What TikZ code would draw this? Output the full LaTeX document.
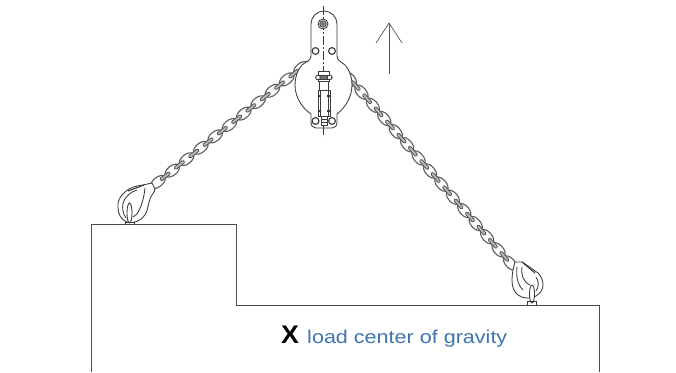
\documentclass[tikz,border=0pt]{standalone}
\usepackage{fontspec}
\usetikzlibrary{shapes.geometric}
\setmainfont{Liberation Sans}
\definecolor{capblue}{HTML}{3F75AE}
\definecolor{ink}{HTML}{3A3A3A}
\tikzset{
  outline/.style={draw=ink,line width=0.85pt},
  thin outline/.style={draw=ink,line width=0.6pt},
  body/.style={draw=black!70,line width=0.7pt},
  linkouter/.style={ellipse,draw=black!62,line width=1.15pt,fill=white,minimum width=17pt,minimum height=9.5pt,inner sep=0pt,sloped},
  linkedge/.style={draw=black!68,line width=0.8pt,fill=black!28,rounded corners=1.2pt,minimum width=12pt,minimum height=3pt,inner sep=0pt,sloped},
}
\begin{document}
\begin{tikzpicture}[x=1pt,y=-1pt]
\useasboundingbox (0,0) rectangle (676,372);
\fill[white] (0,0) rectangle (676,372);
% load
\draw[body] (91,372) -- (91,224) -- (236,224) -- (236,305) -- (599,305) -- (599,372);
% chains
\coordinate (plateL) at (301,68);
\coordinate (hookL) at (158,182);
\coordinate (plateR) at (350,79);
\coordinate (hookR) at (510,263);
\foreach \i in {0,...,20}{
  \pgfmathsetmacro{\t}{\i/20}
  \ifodd\i\else
    \path (plateL) -- (hookL) node[linkouter,pos=\t] (cl\i) {};
  \fi
}
\foreach \i in {0,...,20}{
  \pgfmathsetmacro{\t}{\i/20}
  \ifodd\i
    \path (plateL) -- (hookL) node[linkedge,pos=\t] (cl\i) {};
  \fi
}
\foreach \i in {0,...,28}{
  \pgfmathsetmacro{\t}{\i/28}
  \ifodd\i\else
    \path (plateR) -- (hookR) node[linkouter,pos=\t] (cr\i) {};
  \fi
}
\foreach \i in {0,...,28}{
  \pgfmathsetmacro{\t}{\i/28}
  \ifodd\i
    \path (plateR) -- (hookR) node[linkedge,pos=\t] (cr\i) {};
  \fi
}
% plate
\draw[outline,fill=white] (311,24) arc[start angle=180,end angle=360,radius=13] -- (337,56)
  .. controls (337,61) and (342,62) .. (345,65)
  .. controls (350,70) and (352,78) .. (352,85)
  .. controls (352,97) and (345,108) .. (337,114)
  -- (337,122) .. controls (337,126) and (335,128) .. (332,128)
  -- (316,128) .. controls (313,128) and (311,126) .. (311,122)
  -- (311,114)
  .. controls (302,108) and (295,97) .. (295,85)
  .. controls (295,78) and (297,70) .. (302,65)
  .. controls (305,62) and (311,61) .. (311,56) -- cycle;
\draw[thin outline,dash pattern=on 9pt off 2pt on 2pt off 2pt] (323.5,6) -- (323.5,137);
% plate holes
\foreach \n/\x/\y in {a/315.5/51,b/332/51,c/315.5/121,d/332/121}
  \draw[outline,fill=white,line width=1.1pt] (\x,\y) circle[radius=3.4];
\draw[outline,fill=white] (323,24) circle[radius=5];
\draw[outline,fill=black!25] (323,24) circle[radius=3.2];
\draw[thin outline,fill=white] (323,24) circle[radius=1.4];
% central device
\draw[thin outline,fill=white] (318,71) rectangle (329,81);
\draw[outline,fill=black!55,rounded corners=1.5pt] (316,75.5) rectangle (332,79.5);
\draw[outline,fill=white] (318,77.5) circle[radius=2.3];
\draw[outline,fill=white] (329.5,77.5) circle[radius=2.3];
\draw[thin outline,fill=white] (319,81) -- (328,81) -- (328,90) -- (319,90) -- cycle;
\draw[thin outline,fill=white] (318,90) rectangle (330,116);
\draw[thin outline] (320,90) -- (320,116) (328,90) -- (328,116);
\fill[ink] (318,95) rectangle (321,97) (327,95) rectangle (330,97)
  (318,110) rectangle (321,112) (327,110) rectangle (330,112);
\draw[thin outline,fill=white] (321,116) rectangle (327,125);
\draw[thin outline] (321,119) -- (327,119) (321,122) -- (327,122);
% left hook
\draw[outline,fill=white] (143,185) .. controls (135,186) and (129,188) .. (125,192)
  .. controls (120,196) and (117,202) .. (118,207)
  .. controls (118,214) and (121,220) .. (127,222)
  .. controls (133,224) and (141,221) .. (145,215)
  .. controls (148,210) and (148,204) .. (150,199)
  .. controls (151,195) and (155,192) .. (155,189)
  -- (152,183) -- cycle;
\draw[outline] (137,190) .. controls (130,192) and (125,197) .. (123,203)
  .. controls (122,209) and (123,214) .. (126,218);
\draw[outline] (145,188) .. controls (144,197) and (142,206) .. (137,214)
  -- (133,217);
\draw[line width=1.1pt,draw=ink] (128,191) -- (144,185);
\draw[outline,fill=white] (129.5,213) ellipse[x radius=2.5,y radius=10];
\draw[thin outline] (125,225) -- (125,222) -- (134,222) -- (134,225);
% right hook
\draw[outline,fill=white] (515,262) .. controls (513,268) and (512,275) .. (512,280)
  .. controls (512,287) and (514,292) .. (518,295)
  .. controls (523,299) and (531,299) .. (536,296)
  .. controls (541,293) and (543,289) .. (543,285)
  .. controls (543,280) and (541,276) .. (538,273)
  .. controls (532,269) and (527,265) .. (522,262) -- cycle;
\draw[outline] (517,267) .. controls (516,275) and (517,284) .. (523,290);
\draw[outline] (522,267) .. controls (521,275) and (523,282) .. (530,285);
\draw[line width=1.1pt,draw=ink] (522,262) -- (535,273);
\draw[outline] (536,277) .. controls (539,281) and (539,287) .. (536,291);
\draw[outline,fill=white] (532,294) ellipse[x radius=2.5,y radius=9];
\draw[thin outline] (527,305) -- (527,301) -- (536,301) -- (536,305);
% arrow
\coordinate (arrowbase) at (389,74);
\coordinate (arrowtip) at (389,23);
\draw[draw=black!65,line width=0.7pt] (arrowbase) -- (arrowtip);
\draw[draw=black!65,line width=0.7pt] (376,43) -- (arrowtip) -- (402,43);
% label
\node[anchor=center,inner sep=0pt,xscale=1.05,font=\bfseries] (xmark) at (290,335) {\fontsize{25.5}{26}\selectfont X};
\node[anchor=west,inner sep=0pt,text=capblue,xscale=1.165] (lab) at (307,339) {\fontsize{18.5}{20}\selectfont load center of gravity};
\end{tikzpicture}
\end{document}
